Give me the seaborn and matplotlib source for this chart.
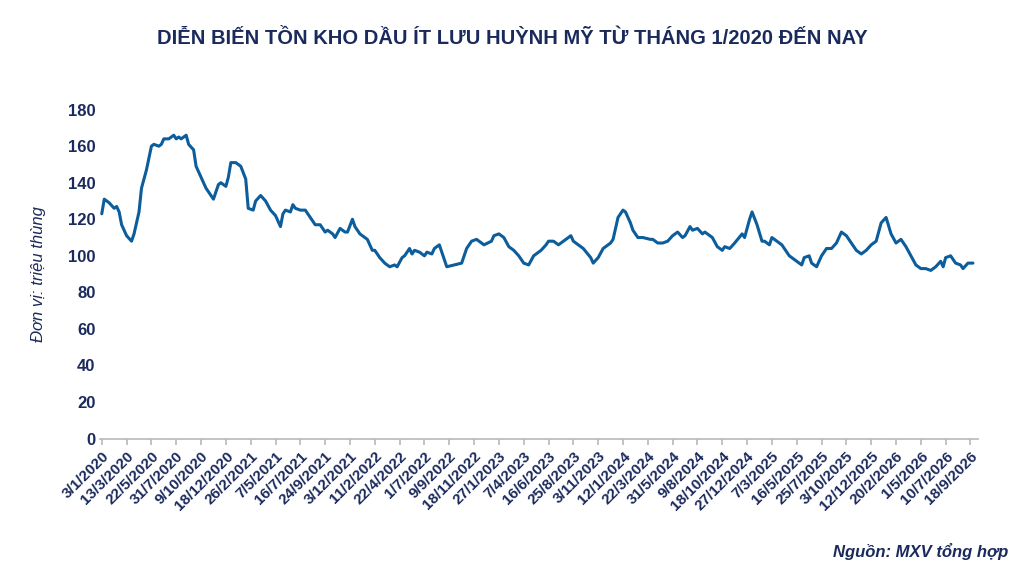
import matplotlib
matplotlib.use("Agg")
import matplotlib.pyplot as plt
import seaborn as sns
import pandas as pd

week_offsets = [0,1,3,5,6,7,8,10,12,13,15,16,18,20,21,23,24,25,27,29,30,31,32,34,35,37,38,40,42,45,47,48,50,51,52,54,56,58,59,61,62,64,66,68,70,72,73,74,76,77,78,80,82,83,85,86,88,90,91,93,94,96,98,99,101,102,104,106,107,109,110,112,114,116,118,119,121,122,124,125,126,128,130,131,133,134,136,138,139,142,145,147,149,151,154,157,158,160,162,164,166,168,170,172,174,177,179,180,182,184,186,189,190,192,194,197,198,200,202,205,206,208,210,211,213,214,216,218,221,222,224,226,228,230,232,234,235,237,238,240,242,243,246,248,250,251,253,255,258,259,261,262,264,266,267,269,270,272,274,275,277,278,280,282,283,285,286,288,290,292,294,296,298,300,302,304,306,308,310,312,314,316,318,320,322,324,326,328,330,332,334,336,338,339,340,342,344,346,347,349,351]
inventory = [123,131,129,126,127,124,117,111,108,112,124,137,147,160,161,160,161,164,164,166,164,165,164,166,161,158,149,143,137,131,139,140,138,143,151,151,149,142,126,125,130,133,130,125,122,116,123,125,124,128,126,125,125,123,119,117,117,113,114,112,110,115,113,113,120,116,112,110,109,103,103,99,96,94,95,94,99,100,104,101,103,102,100,102,101,104,106,98,94,95,96,104,108,109,106,108,111,112,110,105,103,100,96,95,100,103,106,108,108,106,108,111,108,106,104,99,96,99,104,107,109,121,125,124,118,114,110,110,109,109,107,107,108,111,113,110,111,116,114,115,112,113,110,105,103,105,104,107,112,110,120,124,117,108,108,106,110,108,106,104,100,99,97,95,99,100,96,94,100,104,104,107,113,111,107,103,101,103,106,108,118,121,112,107,109,105,100,95,93,93,92,94,97,94,99,100,96,95,93,96,96]

start = pd.Timestamp("2020-01-03")
df = pd.DataFrame({"date": [start + pd.Timedelta(weeks=w) for w in week_offsets], "value": inventory})

sns.set_theme(style="white")
plt.rcParams["font.family"] = ["Liberation Sans", "DejaVu Sans"]
navy = "#1b2a5c"
fig, ax = plt.subplots(figsize=(10.24, 5.77), dpi=100)
fig.subplots_adjust(left=0.098, right=0.955, bottom=0.24, top=0.81)
sns.lineplot(data=df, x="date", y="value", ax=ax, color="#0b5d9c", linewidth=2.2)

ticks = [start + pd.Timedelta(days=70 * k) for k in range(36)]
ax.set_xticks(ticks)
ax.set_xticklabels([f"{t.day}/{t.month}/{t.year}" for t in ticks], rotation=45, ha="right",
                   rotation_mode="anchor", fontsize=11, fontweight="bold", color=navy)
ax.set_xlim(start - pd.Timedelta(days=4), start + pd.Timedelta(weeks=353))
ax.set_ylim(0, 180)
ax.set_yticks(range(0, 181, 20))
ax.tick_params(axis="y", labelsize=12, labelcolor=navy, length=0)
for l in ax.get_yticklabels():
    l.set_fontweight("bold")
ax.tick_params(axis="x", length=4, color="#bbbbbb", direction="out", bottom=True)
for s in ["top", "right", "left"]:
    ax.spines[s].set_visible(False)
ax.spines["bottom"].set_color("#bbbbbb")
ax.set_xlabel("")
ax.set_ylabel("Đơn vị: triệu thùng", fontsize=12, style="italic", color=navy, labelpad=16)
fig.suptitle("DIỄN BIẾN TỒN KHO DẦU ÍT LƯU HUỲNH MỸ TỪ THÁNG 1/2020 ĐẾN NAY",
             fontsize=14.5, fontweight="bold", color=navy, y=0.95)
fig.text(0.985, 0.035, "Nguồn: MXV tổng hợp", ha="right", fontsize=12, style="italic",
         fontweight="bold", color=navy)
fig.savefig("out.png", dpi=100)
